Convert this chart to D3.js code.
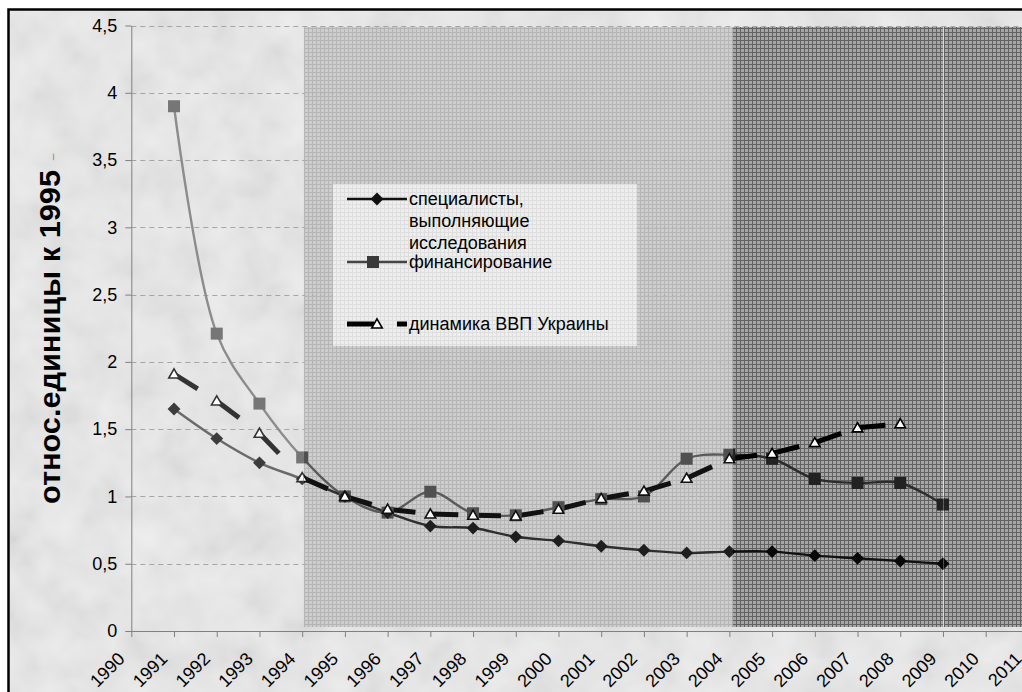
<!DOCTYPE html>
<html lang="ru">
<head>
<meta charset="utf-8">
<title>Динамика относительно 1995</title>
<script src="https://d3js.org/d3.v7.min.js"></script>
<style>
  body { margin: 0; background: #fff; }
  text { font-family: "Liberation Sans", Arial, sans-serif; }
</style>
</head>
<body>
<script>
var w = 1022, h = 692;

// данные (относ. единицы к 1995)
var years = [1991, 1992, 1993, 1994, 1995, 1996, 1997, 1998, 1999, 2000,
             2001, 2002, 2003, 2004, 2005, 2006, 2007, 2008, 2009];
var specialists = [1.65, 1.43, 1.25, 1.13, 1.00, 0.88, 0.78, 0.765, 0.70, 0.67,
                   0.63, 0.60, 0.58, 0.59, 0.59, 0.56, 0.54, 0.52, 0.50];
var financing = [3.90, 2.21, 1.69, 1.29, 1.00, 0.88, 1.035, 0.875, 0.86, 0.92,
                 0.98, 1.00, 1.28, 1.31, 1.28, 1.13, 1.10, 1.10, 0.94];
var gdpYears = [1991, 1992, 1993, 1994, 1995, 1996, 1997, 1998, 1999, 2000,
                2001, 2002, 2003, 2004, 2005, 2006, 2007, 2008];
var gdp = [1.91, 1.71, 1.47, 1.14, 1.00, 0.905, 0.87, 0.86, 0.855, 0.905,
           0.985, 1.04, 1.135, 1.28, 1.32, 1.40, 1.51, 1.54];

var xTicks = [1990, 1991, 1992, 1993, 1994, 1995, 1996, 1997, 1998, 1999, 2000,
              2001, 2002, 2003, 2004, 2005, 2006, 2007, 2008, 2009, 2010, 2011];
var yTicks = [0, 0.5, 1, 1.5, 2, 2.5, 3, 3.5, 4, 4.5];
var yTickLabels = ["0", "0,5", "1", "1,5", "2", "2,5", "3", "3,5", "4", "4,5"];

var legendNames = [["специалисты,", "выполняющие", "исследования"],
                   ["финансирование"],
                   ["динамика ВВП Украины"]];
var yTitle = "относ.единицы к 1995";

// затенённые периоды (границы по годам)
var bandStarts = [1990, 1994.04, 2004.08, 2009.02];
var bandEnds   = [1994.04, 2004.08, 2009.0, 2013];

// цвета по периодам: фон, линия спец., маркер спец., линия фин., маркер фин., ВВП
var bandFill = ["none", "url(#gridMid)", "url(#gridDark)", "url(#gridDark)"];
var specLine = ["#6a6a6a", "#2e2e2e", "#111", "#111"];
var specMark = ["#3c3c3c", "#1e1e1e", "#080808", "#080808"];
var finLine  = ["#8c8c8c", "#5a5a5a", "#2c2c2c", "#2c2c2c"];
var finMark  = ["#767676", "#505050", "#222", "#222"];
var gdpCol   = ["#333", "#111", "#000", "#000"];

var x = d3.scaleLinear().domain([1990, 2011]).range([131.3, 1028.4]);
var y = d3.scaleLinear().domain([0, 4.5]).range([631, 25.5]);

var svg = d3.select("body").append("svg")
    .attr("width", w)
    .attr("height", h);

var defs = svg.append("defs");

// фактура фона
var f = defs.append("filter").attr("id", "mottle")
    .attr("x", 0).attr("y", 0).attr("width", 1).attr("height", 1);
f.append("feTurbulence").attr("type", "fractalNoise")
    .attr("baseFrequency", 0.025).attr("numOctaves", 3).attr("seed", 7);
f.append("feColorMatrix").attr("type", "matrix")
    .attr("values", "1 0 0 0 0  1 0 0 0 0  1 0 0 0 0  0 0 0 0 1");

function gridPattern(id, base, line, size) {
    var p = defs.append("pattern").attr("id", id)
        .attr("patternUnits", "userSpaceOnUse")
        .attr("width", size).attr("height", size);
    p.append("rect").attr("width", size).attr("height", size).attr("fill", base);
    p.append("rect").attr("width", 1).attr("height", size).attr("fill", line);
    p.append("rect").attr("width", size).attr("height", 1).attr("fill", line);
}
gridPattern("gridMid", "#c9c9c9", "#adadad", 4);
gridPattern("gridDark", "#a6a6a6", "#626262", 4);
gridPattern("gridLeg", "#eeeeee", "#dedede", 4);

// фон и рамка
svg.append("rect").attr("x", 9).attr("y", 10).attr("width", w).attr("height", h)
    .attr("fill", "#ececec");
svg.append("rect").attr("x", 9).attr("y", 10).attr("width", w).attr("height", h)
    .attr("filter", "url(#mottle)").attr("opacity", 0.14);

// сетка, затем затенение периодов поверх неё
var bandTop = y(4.5) + 1.5, bandBot = y(0) - 4;
function drawBand(i, op) {
    svg.append("rect")
        .attr("x", x(bandStarts[i]))
        .attr("y", bandTop)
        .attr("width", x(bandEnds[i]) - x(bandStarts[i]))
        .attr("height", bandBot - bandTop)
        .attr("fill", bandFill[i])
        .attr("opacity", op);
}

svg.append("g").selectAll("line")
    .data(yTicks.filter(function(d) { return d > 0; }))
    .join("line")
    .attr("x1", x(1990)).attr("x2", w)
    .attr("y1", function(d) { return Math.round(y(d)) + 0.5; })
    .attr("y2", function(d) { return Math.round(y(d)) + 0.5; })
    .attr("stroke", "#a5a5a5")
    .attr("stroke-dasharray", "5,4");

drawBand(1, 0.85);
drawBand(2, 1);
drawBand(3, 1);

// оси
var yAxis = svg.append("g")
    .attr("transform", "translate(" + x(1990) + ",0)")
    .call(d3.axisLeft(y).tickValues(yTicks)
        .tickFormat(function(d, i) { return yTickLabels[i]; })
        .tickSize(6).tickSizeOuter(0).tickPadding(8));
yAxis.selectAll("text").attr("font-size", 18).attr("fill", "#000")
    .style("font-family", "'Liberation Sans', Arial, sans-serif");
yAxis.selectAll("line, path").attr("stroke", "#808080");

var xAxis = svg.append("g")
    .attr("transform", "translate(0," + y(0) + ")")
    .call(d3.axisBottom(x).tickValues(xTicks).tickFormat(d3.format("d"))
        .tickSize(6).tickSizeOuter(0));
xAxis.select(".domain").attr("d", "M" + x(1990) + ",0.5H" + (w + 20));
xAxis.selectAll("line, path").attr("stroke", "#808080");
xAxis.selectAll("text")
    .attr("x", 0).attr("y", 0).attr("dy", 0)
    .attr("text-anchor", "end")
    .attr("transform", "translate(-6,29) rotate(-45)")
    .attr("font-size", 18).attr("fill", "#000")
    .style("font-family", "'Liberation Sans', Arial, sans-serif");

// подпись оси Y
svg.append("text")
    .attr("transform", "translate(60,337) rotate(-90)")
    .attr("text-anchor", "middle")
    .attr("font-size", 29)
    .attr("font-weight", "bold")
    .attr("textLength", 334)
    .attr("lengthAdjust", "spacingAndGlyphs")
    .text(yTitle);
svg.append("text")
    .attr("transform", "translate(57,157) rotate(-90)")
    .attr("text-anchor", "middle")
    .attr("font-size", 12)
    .attr("fill", "#888")
    .text("–");

// ряды, по периодам (цвет меняется с фоном)
var specData = years.map(function(d, i) { return [d, specialists[i]]; });
var finData = years.map(function(d, i) { return [d, financing[i]]; });
var gdpData = gdpYears.map(function(d, i) { return [d, gdp[i]]; });
var gdpSegs = d3.pairs(gdpData);

var line = d3.line()
    .x(function(d) { return x(d[0]); })
    .y(function(d) { return y(d[1]); })
    .curve(d3.curveCatmullRom);

var diamond = d3.symbol().type(d3.symbolDiamond2).size(105);
var triangle = d3.symbol().type(d3.symbolTriangle).size(48);

bandStarts.forEach(function(b, i) {
    defs.append("clipPath").attr("id", "clip" + i)
        .append("rect")
        .attr("x", x(bandStarts[i]))
        .attr("y", 0)
        .attr("width", x(bandEnds[i]) - x(bandStarts[i]) + (i === 2 ? 0.6 : 0))
        .attr("height", h);

    var g = svg.append("g").attr("clip-path", "url(#clip" + i + ")");

    g.append("path").datum(finData)
        .attr("d", line).attr("fill", "none")
        .attr("stroke", finLine[i]).attr("stroke-width", 2.4);

    g.append("path").datum(specData)
        .attr("d", line).attr("fill", "none")
        .attr("stroke", specLine[i]).attr("stroke-width", 2.4);

    g.selectAll(".gdpSeg").data(gdpSegs).join("line")
        .attr("x1", function(d) { return x(d[0][0]); })
        .attr("y1", function(d) { return y(d[0][1]); })
        .attr("x2", function(d) { return x(d[1][0]); })
        .attr("y2", function(d) { return y(d[1][1]); })
        .attr("stroke", gdpCol[i])
        .attr("stroke-width", 5)
        .attr("stroke-dasharray", "28,100");

    g.selectAll(".fin").data(finData).join("rect")
        .attr("x", function(d) { return x(d[0]) - 6; })
        .attr("y", function(d) { return y(d[1]) - 6; })
        .attr("width", 12).attr("height", 12)
        .attr("fill", finMark[i]);

    g.selectAll(".spec").data(specData).join("path")
        .attr("d", diamond)
        .attr("transform", function(d) { return "translate(" + x(d[0]) + "," + y(d[1]) + ")"; })
        .attr("fill", specMark[i]);

    g.selectAll(".gdp").data(gdpData).join("path")
        .attr("d", triangle)
        .attr("transform", function(d) { return "translate(" + x(d[0]) + "," + (y(d[1]) + 1) + ")"; })
        .attr("fill", "#fff")
        .attr("stroke", gdpCol[i])
        .attr("stroke-width", 1.6);
});

// легенда
var leg = svg.append("g");
leg.append("rect").attr("x", 333).attr("y", 184).attr("width", 304).attr("height", 162)
    .attr("fill", "url(#gridLeg)");

leg.append("line").attr("x1", 347).attr("x2", 407).attr("y1", 199).attr("y2", 199)
    .attr("stroke", "#111").attr("stroke-width", 2.4);
leg.append("path").attr("d", diamond).attr("transform", "translate(377,199)").attr("fill", "#111");

leg.append("line").attr("x1", 347).attr("x2", 407).attr("y1", 262).attr("y2", 262)
    .attr("stroke", "#444").attr("stroke-width", 2.4);
leg.append("rect").attr("x", 367).attr("y", 256).attr("width", 12).attr("height", 12)
    .attr("fill", "#3a3a3a");

leg.append("line").attr("x1", 347).attr("x2", 407).attr("y1", 324).attr("y2", 324)
    .attr("stroke", "#000").attr("stroke-width", 5)
    .attr("stroke-dasharray", "27,23");
leg.append("path").attr("d", triangle).attr("transform", "translate(377,325)")
    .attr("fill", "#fff").attr("stroke", "#000").attr("stroke-width", 1.6);

var legBase = [[205, 227, 249], [268], [330]];
legendNames.forEach(function(lines, i) {
    lines.forEach(function(t, j) {
        leg.append("text")
            .attr("x", 409).attr("y", legBase[i][j])
            .attr("font-size", 18)
            .attr("fill", "#000")
            .text(t);
    });
});

// рамка
svg.append("rect").attr("x", 8.5).attr("y", 9.5).attr("width", w + 20).attr("height", h + 20)
    .attr("fill", "none").attr("stroke", "#000").attr("stroke-width", 2.5);
</script>
</body>
</html>
